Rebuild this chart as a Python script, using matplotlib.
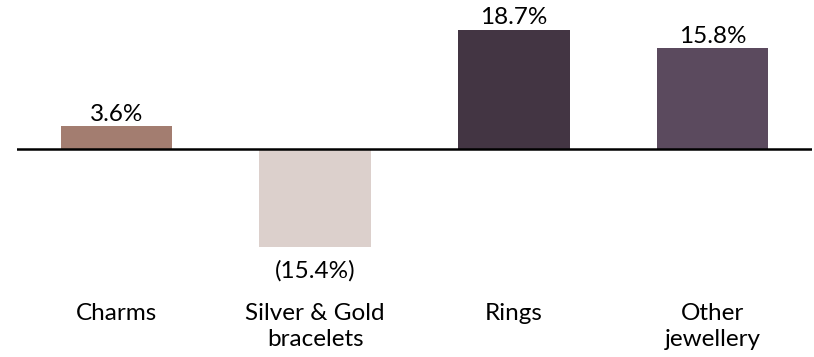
import matplotlib
matplotlib.use("Agg")
import matplotlib.pyplot as plt
from matplotlib.transforms import blended_transform_factory

categories = ["Charms", "Silver & Gold\nbracelets", "Rings", "Other\njewellery"]
values = [3.6, -15.4, 18.7, 15.8]
value_labels = ["3.6%", "(15.4%)", "18.7%", "15.8%"]
colors = ["#a37d70", "#dcd0cc", "#433543", "#5b4a5e"]

plt.rcParams['font.family'] = ['Lato', 'DejaVu Sans']

W, H = 814, 357
fig = plt.figure(figsize=(W / 100, H / 100), dpi=100)
ax = fig.add_axes([17 / W, 0, (812 - 17) / W, 1])
ax.set_xlim(-0.5, 3.5)
zero_px = 149
ppu = 6.37
ax.set_ylim(-(H - zero_px) / ppu, zero_px / ppu)
ax.axis("off")

x = list(range(len(categories)))
ax.bar(x, values, width=0.56, color=colors, zorder=2)
ax.axhline(0, color="black", lw=1.8, zorder=3)

fs = 17.5
for xi, v, lab in zip(x, values, value_labels):
    if v >= 0:
        ax.annotate(lab, (xi, v), xytext=(0, 4), textcoords="offset points",
                    ha="center", va="baseline", fontsize=fs, color="black")
    else:
        ax.annotate(lab, (xi, v), xytext=(0, -21.6), textcoords="offset points",
                    ha="center", va="baseline", fontsize=fs, color="black")

tr = blended_transform_factory(ax.transData, ax.transAxes)
for xi, c in zip(x, categories):
    ax.text(xi, 1 - 303 / H, c, transform=tr, ha="center", va="top",
            fontsize=fs, linespacing=1.3, color="black")

fig.savefig("out.png", dpi=100)
